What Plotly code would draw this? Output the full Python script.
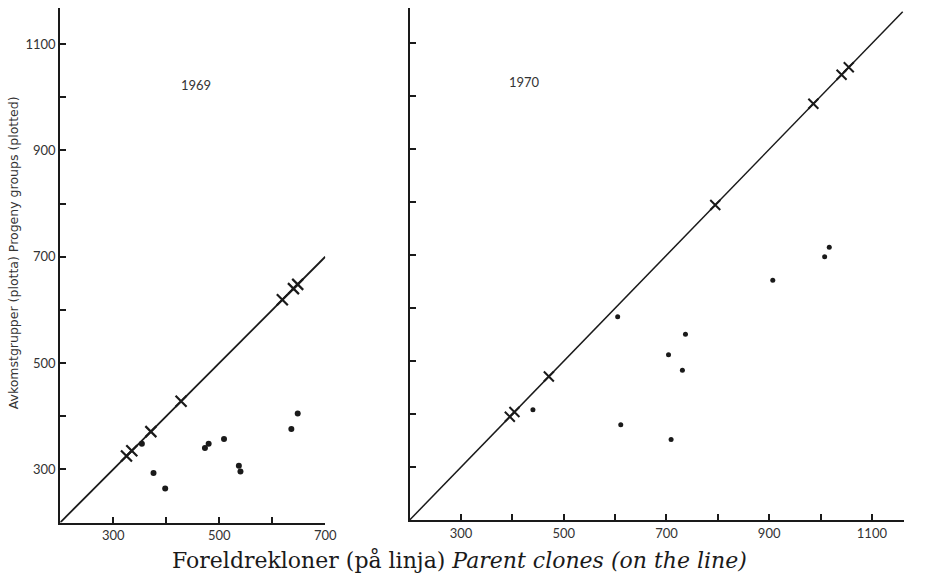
import plotly.graph_objects as go

# 1969: parent clones plotted on the 1:1 line, progeny groups as dots
parents_1969 = [325, 335, 371, 428, 619, 640, 648]
progeny_1969_x = [354, 376, 398, 473, 480, 509, 537, 540, 636, 648]
progeny_1969_y = [348, 293, 264, 340, 348, 357, 307, 296, 376, 405]

# 1970
parents_1970 = [395, 404, 471, 795, 986, 1041, 1055]
progeny_1970_x = [440, 605, 611, 704, 709, 731, 737, 907, 1008, 1017]
progeny_1970_y = [408, 584, 380, 512, 352, 483, 551, 653, 697, 715]

# Axis extents and ticks
x1_range = [200, 700]
x2_range = [200, 1163]
y_range = [200, 1168]
y2_range = [200, 1167]
x1_ticks = [300, 400, 500, 600, 700]
x2_ticks = [300, 400, 500, 600, 700, 800, 900, 1000, 1100]
y_ticks = [300, 400, 500, 600, 700, 800, 900, 1000, 1100]
labelled = {300, 500, 700, 900, 1100}

INK = "#1a1a1a"
TXT = "#333333"
TICKFONT = dict(family="Lato", size=13, color=TXT)


def tick_text(vals):
    return [str(v) if v in labelled else "" for v in vals]


fig = go.Figure()

# 1:1 lines
fig.add_trace(go.Scatter(x=[200, 700], y=[200, 700], mode="lines",
                         line=dict(color=INK, width=1.8), xaxis="x", yaxis="y",
                         hoverinfo="skip"))
fig.add_trace(go.Scatter(x=[200, 1160], y=[200, 1160], mode="lines",
                         line=dict(color=INK, width=1.5), xaxis="x2", yaxis="y2",
                         hoverinfo="skip"))

# Parent clones (crosses on the line)
fig.add_trace(go.Scatter(x=parents_1969, y=parents_1969, mode="markers",
                         marker=dict(symbol="x-thin", size=11,
                                     line=dict(color=INK, width=2.2)),
                         xaxis="x", yaxis="y", cliponaxis=False))
fig.add_trace(go.Scatter(x=parents_1970, y=parents_1970, mode="markers",
                         marker=dict(symbol="x-thin", size=10,
                                     line=dict(color=INK, width=2)),
                         xaxis="x2", yaxis="y2", cliponaxis=False))

# Progeny groups (dots)
fig.add_trace(go.Scatter(x=progeny_1969_x, y=progeny_1969_y, mode="markers",
                         marker=dict(symbol="circle", size=6, color=INK),
                         xaxis="x", yaxis="y", cliponaxis=False))
fig.add_trace(go.Scatter(x=progeny_1970_x, y=progeny_1970_y, mode="markers",
                         marker=dict(symbol="circle", size=5, color=INK),
                         xaxis="x2", yaxis="y2", cliponaxis=False))

axis_common = dict(showgrid=False, zeroline=False, showline=True,
                   linecolor=INK, linewidth=2, ticks="inside", ticklen=6,
                   tickwidth=1.6, tickcolor=INK, tickfont=TICKFONT,
                   mirror=False, tickmode="array")

fig.update_layout(
    width=935, height=576,
    margin=dict(l=0, r=0, t=0, b=0),
    paper_bgcolor="white", plot_bgcolor="white",
    showlegend=False,
    xaxis=dict(domain=[61 / 935, 329.5 / 935], range=x1_range, anchor="y",
               tickvals=x1_ticks, ticktext=tick_text(x1_ticks), **axis_common),
    yaxis=dict(domain=[1 - 522.5 / 576, 1 - 8 / 576], range=y_range, anchor="x",
               tickvals=y_ticks, ticktext=tick_text(y_ticks), **axis_common),
    xaxis2=dict(domain=[415 / 935, 916 / 935], range=x2_range, anchor="y2",
                tickvals=x2_ticks, ticktext=tick_text(x2_ticks), **axis_common),
    yaxis2=dict(domain=[1 - 520 / 576, 1 - 8 / 576], range=y2_range, anchor="x2",
                tickvals=y_ticks, ticktext=["" for _ in y_ticks], **axis_common),
    annotations=[
        dict(text="1969", x=181.7 / 935, y=1 - 75 / 576, xref="paper", yref="paper",
             showarrow=False, font=dict(family="Lato", size=13, color=TXT)),
        dict(text="1970", x=531.7 / 935, y=1 - 72 / 576, xref="paper", yref="paper",
             showarrow=False, font=dict(family="Lato", size=13, color=TXT)),
        dict(text="Avkomstgrupper (plotta) Progeny groups (plotted)",
             x=14 / 935, y=1 - 252.5 / 576, xref="paper", yref="paper",
             xanchor="center", yanchor="middle",
             textangle=-90, showarrow=False,
             font=dict(family="DejaVu Sans", size=12.5, color=TXT)),
        dict(text="Foreldrekloner (på linja) <i>Parent clones (on the line)</i>",
             x=465 / 935, y=1 - 560 / 576, xref="paper", yref="paper",
             xanchor="center", yanchor="middle",
             showarrow=False,
             font=dict(family="DejaVu Serif", size=22, color=INK)),
    ],
)

fig.write_html("out.html")
